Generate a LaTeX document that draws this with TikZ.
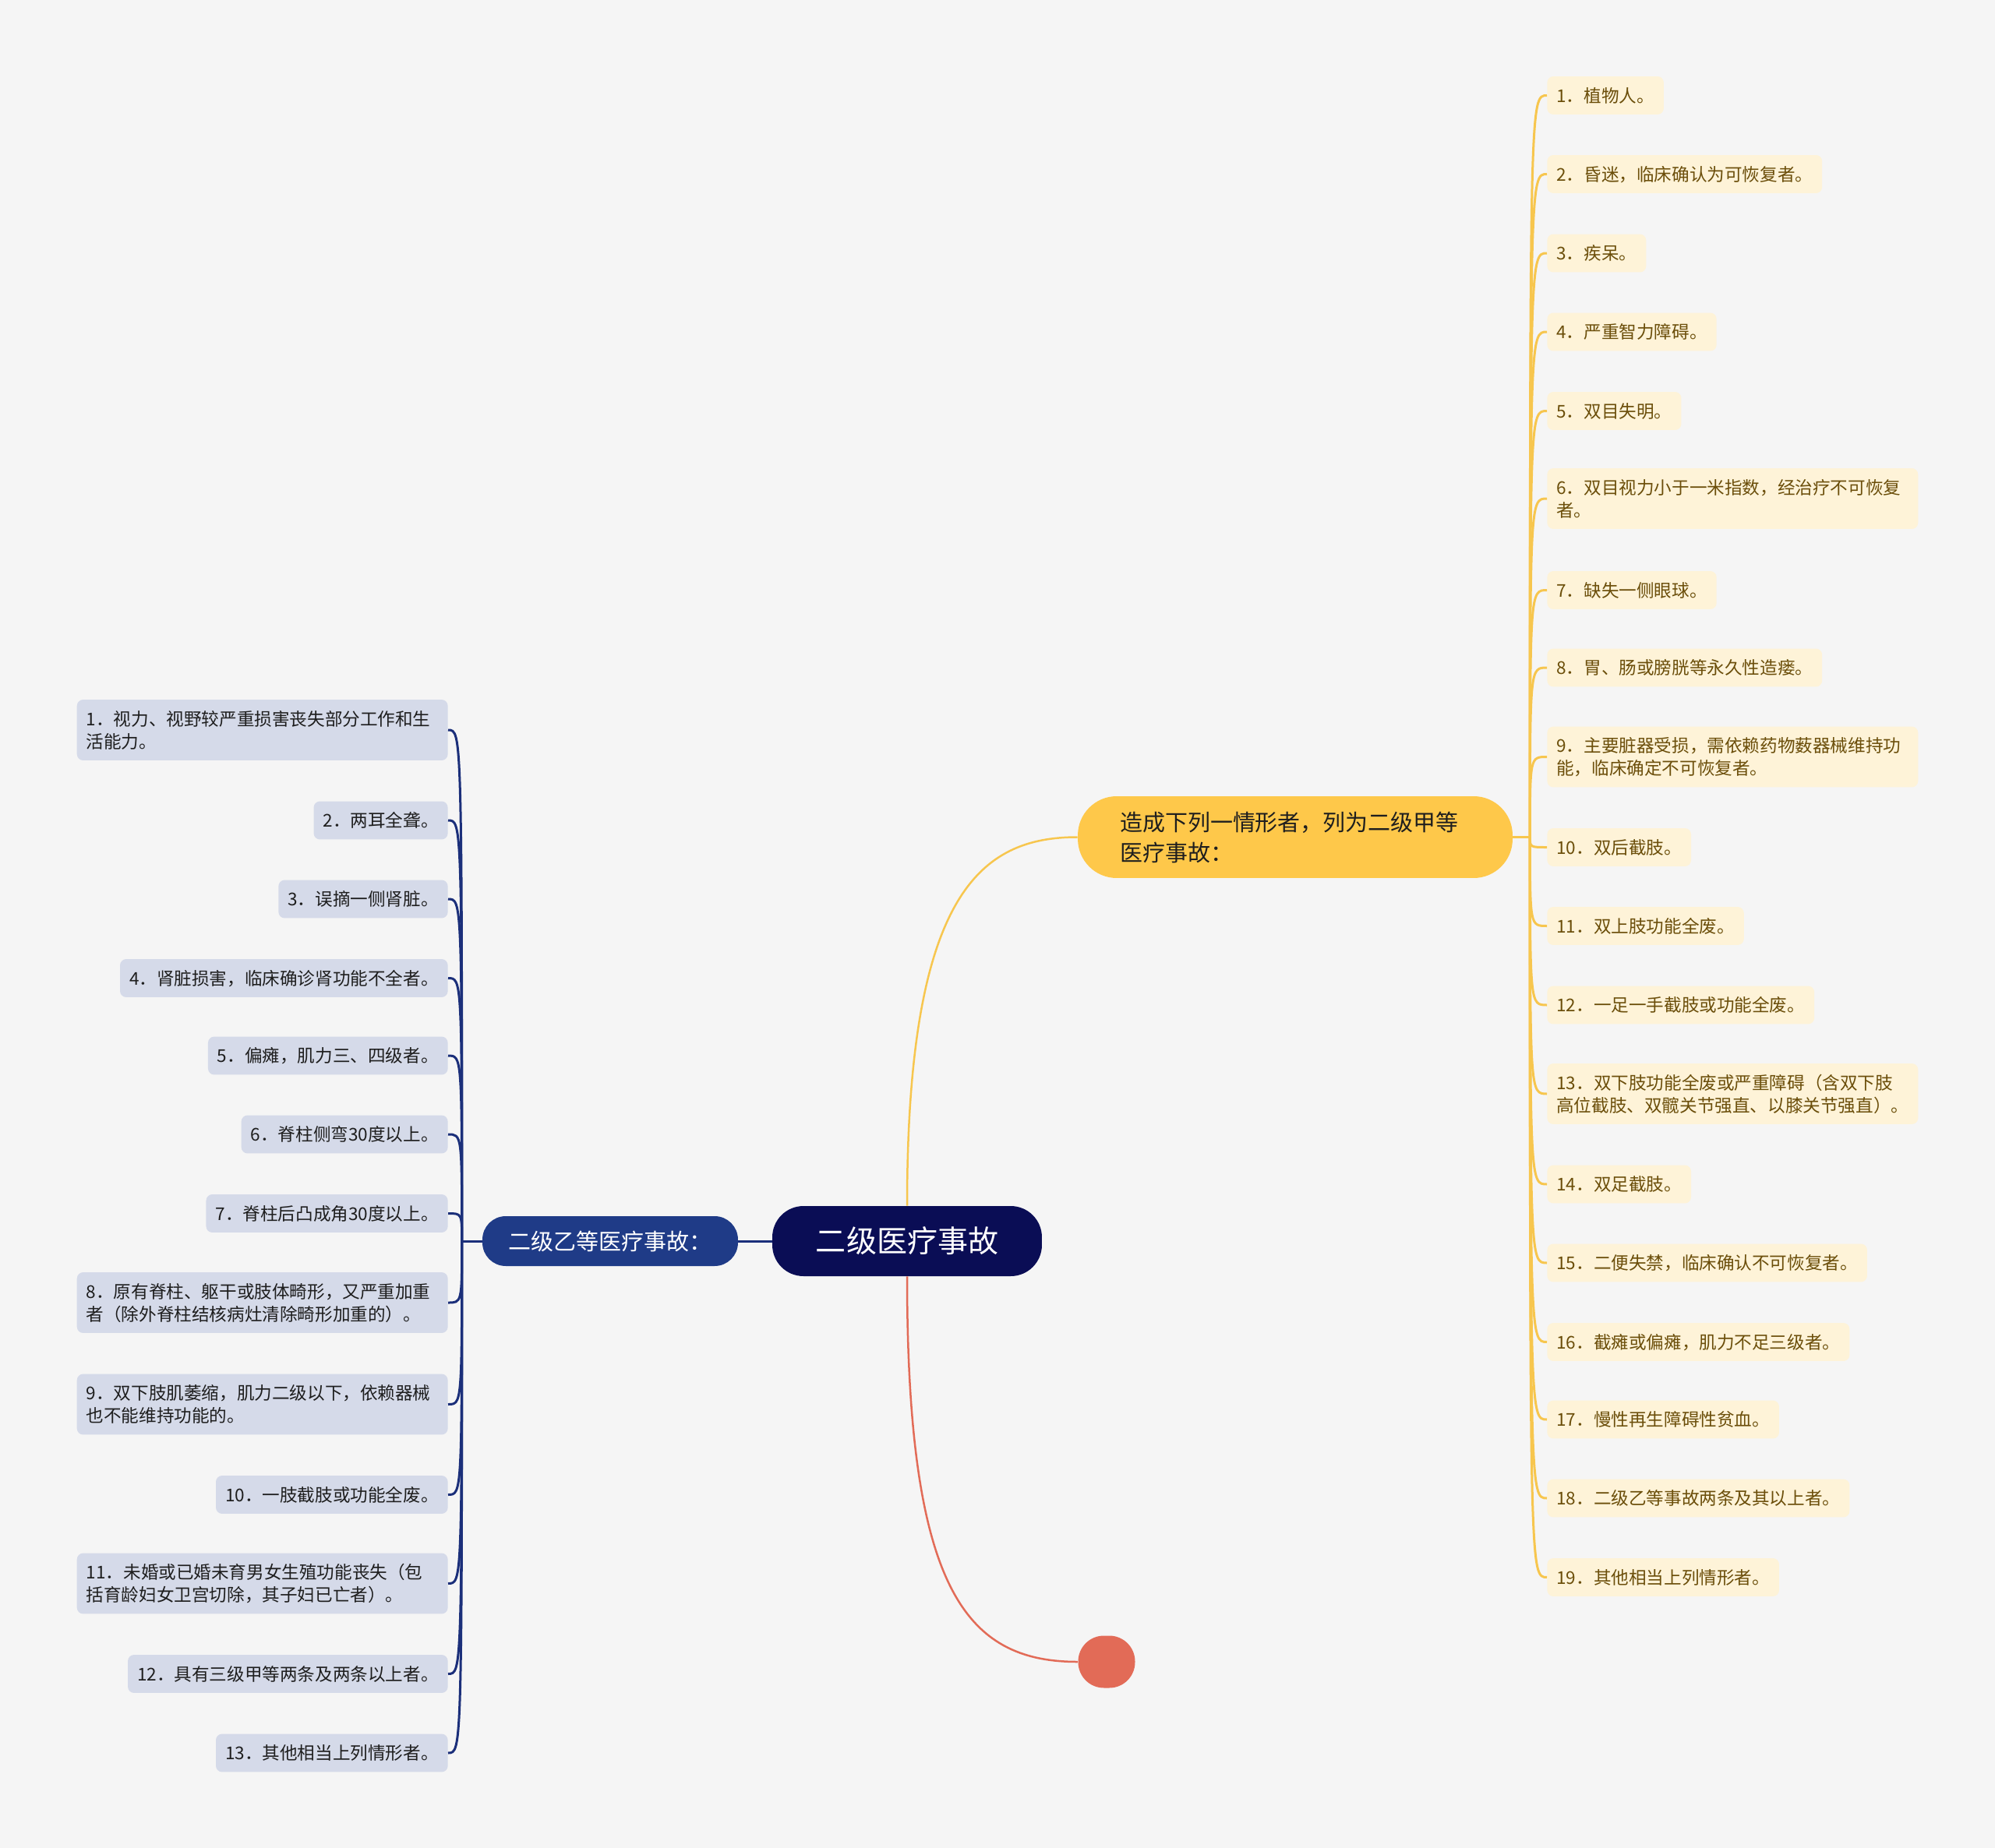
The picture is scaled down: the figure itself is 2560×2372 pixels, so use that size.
\documentclass[tikz,border=0pt]{standalone}
\usepackage{fontspec}
\setmainfont{Noto Sans CJK SC}
\usepackage{xcolor}
\usetikzlibrary{positioning,calc}
\definecolor{PageBg}{HTML}{F5F5F5}
\definecolor{RootNavy}{HTML}{0A0D55}
\definecolor{YiBlue}{HTML}{1F3B87}
\definecolor{YiLine}{HTML}{1B2F7A}
\definecolor{YiPale}{HTML}{D5DAE9}
\definecolor{JiaGold}{HTML}{FEC84A}
\definecolor{JiaLine}{HTML}{F7C64E}
\definecolor{JiaPale}{HTML}{FEF3D8}
\definecolor{JiaBrown}{HTML}{6B4E0A}
\definecolor{ExtraRed}{HTML}{E26B57}
\definecolor{TextDark}{HTML}{1E1E1E}
\newcommand{\rootfont}{\fontsize{22.2pt}{28pt}\selectfont}
\newcommand{\midfont}{\fontsize{16.5pt}{22.2pt}\selectfont}
\newcommand{\leaffont}{\fontsize{12.86pt}{16.5pt}\selectfont}
\newcommand{\leafstrut}{\rule[-3.2pt]{0pt}{16.2pt}}
\tikzset{
  rootbox/.style={fill=RootNavy,text=white,rounded corners=0.8cm,
    minimum width=6.92cm,minimum height=1.8cm,inner sep=0pt,font=\rootfont},
  yibox/.style={fill=YiBlue,text=white,rounded corners=0.6cm,
    minimum width=6.56cm,minimum height=1.28cm,inner sep=0pt,font=\midfont},
  jiabox/.style={fill=JiaGold,text=TextDark,rounded corners=1cm,
    text width=9cm,align=left,inner xsep=1.08cm,inner ysep=0pt,
    minimum height=2.1cm,font=\midfont},
  extrablob/.style={fill=ExtraRed,rounded corners=0.66cm,
    minimum width=1.46cm,minimum height=1.34cm,inner sep=0pt},
  leaf/.style={rounded corners=0.16cm,inner xsep=0.24cm,inner ysep=0.205cm,
    font=\leaffont,execute at begin node=\leafstrut,execute at end node=\leafstrut},
  lleaf/.style={leaf,fill=YiPale,text=TextDark,anchor=east},
  lleafwide/.style={lleaf,text width=9.04cm,align=left},
  rleaf/.style={leaf,fill=JiaPale,text=JiaBrown,anchor=west},
  rleafwide/.style={rleaf,text width=9.04cm,align=left},
  yiline/.style={draw=YiLine,line width=0.06cm},
  jialine/.style={draw=JiaLine,line width=0.06cm},
  extraline/.style={draw=ExtraRed,line width=0.05cm}
}
\begin{document}
\begin{tikzpicture}[x=0.02cm,y=-0.02cm]
  \fill[PageBg] (0,0) rectangle (2560,2372);
  % main topics
  \node[rootbox] (root) at (1164,1593) {二级医疗事故};
  \node[yibox] (yi) at (783,1593) {二级乙等医疗事故：};
  \node[jiabox] (jia) at (1662,1074.5) {造成下列一情形者，列为二级甲等\\医疗事故：};
  \node[extrablob] (extra) at (1420,2133) {};
  % 二级乙等
  \node[lleafwide] (l1) at (575,937) {1．视力、视野较严重损害丧失部分工作和生\\活能力。};
  \node[lleaf] (l2) at (575,1053) {2．两耳全聋。};
  \node[lleaf] (l3) at (575,1154) {3．误摘一侧肾脏。};
  \node[lleaf] (l4) at (575,1255.5) {4．肾脏损害，临床确诊肾功能不全者。};
  \node[lleaf] (l5) at (575,1355) {5．偏瘫，肌力三、四级者。};
  \node[lleaf] (l6) at (575,1456) {6．脊柱侧弯30度以上。};
  \node[lleaf] (l7) at (575,1557.5) {7．脊柱后凸成角30度以上。};
  \node[lleafwide] (l8) at (575,1672) {8．原有脊柱、躯干或肢体畸形，又严重加重\\者（除外脊柱结核病灶清除畸形加重的）。};
  \node[lleafwide] (l9) at (575,1802.5) {9．双下肢肌萎缩，肌力二级以下，依赖器械\\也不能维持功能的。};
  \node[lleaf] (l10) at (575,1918.5) {10．一肢截肢或功能全废。};
  \node[lleafwide] (l11) at (575,2032.5) {11．未婚或已婚未育男女生殖功能丧失（包\\括育龄妇女卫宫切除，其子妇已亡者）。};
  \node[lleaf] (l12) at (575,2148.5) {12．具有三级甲等两条及两条以上者。};
  \node[lleaf] (l13) at (575,2250) {13．其他相当上列情形者。};
  % 二级甲等
  \node[rleaf] (r1) at (1985,122.5) {1．植物人。};
  \node[rleaf] (r2) at (1985,223.5) {2．昏迷，临床确认为可恢复者。};
  \node[rleaf] (r3) at (1985,325) {3．疾呆。};
  \node[rleaf] (r4) at (1985,426) {4．严重智力障碍。};
  \node[rleaf] (r5) at (1985,527.5) {5．双目失明。};
  \node[rleafwide] (r6) at (1985,640) {6．双目视力小于一米指数，经治疗不可恢复\\者。};
  \node[rleaf] (r7) at (1985,757.5) {7．缺失一侧眼球。};
  \node[rleaf] (r8) at (1985,857) {8．胃、肠或膀胱等永久性造瘘。};
  \node[rleafwide] (r9) at (1985,971.5) {9．主要脏器受损，需依赖药物薮器械维持功\\能，临床确定不可恢复者。};
  \node[rleaf] (r10) at (1985,1087.5) {10．双后截肢。};
  \node[rleaf] (r11) at (1985,1188.5) {11．双上肢功能全废。};
  \node[rleaf] (r12) at (1985,1290) {12．一足一手截肢或功能全废。};
  \node[rleafwide] (r13) at (1985,1404) {13．双下肢功能全废或严重障碍（含双下肢\\高位截肢、双髋关节强直、以膝关节强直）。};
  \node[rleaf] (r14) at (1985,1520) {14．双足截肢。};
  \node[rleaf] (r15) at (1985,1621) {15．二便失禁，临床确认不可恢复者。};
  \node[rleaf] (r16) at (1985,1722.5) {16．截瘫或偏瘫，肌力不足三级者。};
  \node[rleaf] (r17) at (1985,1822) {17．慢性再生障碍性贫血。};
  \node[rleaf] (r18) at (1985,1923) {18．二级乙等事故两条及其以上者。};
  \node[rleaf] (r19) at (1985,2024.5) {19．其他相当上列情形者。};
  % connectors
  \coordinate (ljoin) at ([xshift=-0.52cm]yi.west);
  \coordinate (rjoin) at ([xshift=0.44cm]jia.east);
  \draw[yiline] (root.west) -- (yi.east);
  \draw[jialine,line width=0.05cm] (root.north) .. controls +(0,-400) and +(-125,0) .. (jia.west);
  \draw[extraline] (root.south) .. controls +(0,400) and +(-145,0) .. (extra.west);
  \draw[yiline] (yi.west) -- (ljoin);
  \draw[jialine] (jia.east) -- (rjoin);
  \foreach \i in {1,...,13}
    \draw[yiline] (ljoin) .. controls (ljoin |- l\i.east) and (ljoin |- l\i.east) .. (l\i.east);
  \foreach \i in {1,...,19}
    \draw[jialine] (rjoin) .. controls (rjoin |- r\i.west) and (rjoin |- r\i.west) .. (r\i.west);
\end{tikzpicture}
\end{document}
